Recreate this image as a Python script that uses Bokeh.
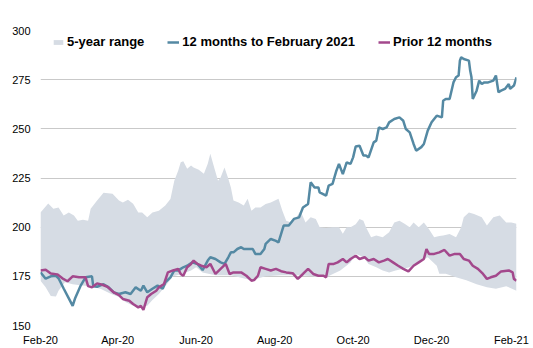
import pandas as pd
from bokeh.plotting import figure
from bokeh.models import Legend, LegendItem, Label, FixedTicker
from bokeh.embed import file_html
from bokeh.resources import INLINE

# ---------------- data ----------------
START = "2020-02-01"          # day 0 of the x axis
title_text = "Jan 2000 = 100"
series_names = ["5-year range", "12 months to February 2021", "Prior 12 months"]

tick_dates = ["2020-02-01", "2020-04-01", "2020-06-01", "2020-08-01",
              "2020-10-01", "2020-12-01", "2021-02-01"]
tick_labels = ["Feb-20", "Apr-20", "Jun-20", "Aug-20", "Oct-20", "Dec-20", "Feb-21"]
y_ticks = [150, 175, 200, 225, 250, 275, 300]

# 12 months to February 2021 (days since 1 Feb 2020, index value)
current_day = [0, 4, 8, 12, 14, 18, 22, 25, 27, 31, 35, 40, 41, 44, 49, 53, 57, 61, 66, 70,
               74, 78, 80, 83, 87, 91, 95, 97, 101, 104, 107, 109, 111, 114, 118, 122, 126, 130, 132, 136,
               140, 143, 146, 148, 150, 153, 156, 158, 162, 165, 167, 171, 174, 175, 179, 183, 185, 189, 193, 197,
               201, 204, 208, 210, 213, 216, 217, 222, 224, 227, 230, 232, 235, 238, 241, 243, 245, 248, 251, 253,
               255, 259, 261, 263, 266, 269, 271, 275, 279, 282, 284, 287, 290, 292, 296, 298, 301, 304, 308, 312,
               313, 315, 318, 321, 323, 325, 326, 327, 329, 333, 334, 335, 336, 339, 341, 343, 345, 348, 352, 354,
               356, 358, 361, 364, 365, 368, 370]
current_val = [177, 173.8, 175, 175.3, 174, 168.8, 163.8, 160, 164, 170, 174.5, 175, 170, 169.7, 171, 169.4, 166.8, 166, 166.9, 166,
               169.4, 167.7, 170.3, 166.9, 168.7, 170.3, 168.7, 171.9, 174.5, 178, 178, 178.8, 179.6, 180.4, 182.1, 181.3, 178.2, 183, 184.7, 183.8,
               182.1, 181.3, 184.7, 187.2, 187.2, 188.9, 189.8, 188.9, 188.9, 188.9, 186.4, 186.4, 188.9, 191.5, 194, 193, 192.3, 200.8, 200.8, 204.2,
               205, 210, 211.8, 222.8, 220.2, 220.2, 217.7, 216, 221.1, 222, 228.7, 232.2, 227, 232.9, 232.2, 235.5, 241, 241.4, 236.4, 236.4,
               235.5, 243.1, 244, 250.7, 249.9, 250.7, 253.3, 255, 255.8, 254.1, 249.9, 248.2, 242.3, 238.9, 240.7, 242.3, 249.1, 253.3, 256.7, 255.8,
               264.3, 265.2, 265.2, 273.6, 276.2, 277.1, 284.7, 286.4, 285.5, 284.7, 279.6, 276.2, 265.2, 269.4, 274.5, 272.8, 273.6, 273.6, 274.5, 277.1,
               268.6, 269.4, 270.3, 272.8, 270.3, 272, 276.2]

# Prior 12 months
prior_day = [0, 4, 8, 13, 17, 21, 25, 30, 35, 37, 40, 44, 48, 52, 57, 61, 64, 69, 72, 76,
             78, 80, 83, 86, 90, 92, 96, 99, 103, 107, 109, 111, 114, 117, 119, 122, 125, 129, 132, 136,
             140, 144, 147, 150, 156, 160, 164, 166, 169, 171, 175, 179, 183, 187, 191, 196, 200, 204, 208, 212,
             216, 220, 222, 224, 228, 231, 235, 238, 241, 245, 248, 252, 255, 259, 263, 267, 270, 274, 278, 282,
             286, 290, 294, 298, 300, 302, 306, 310, 314, 318, 322, 326, 329, 333, 336, 340, 344, 347, 350, 354,
             358, 364, 367, 368, 370]
prior_val = [178, 178.4, 176.4, 176, 174, 172.5, 175, 174.5, 174.5, 170, 169.4, 171.4, 170.7, 169.7, 166.8, 165.4, 163.5, 162.6, 160.9, 159.2,
             160, 157.9, 164.4, 166, 167.7, 169.4, 171.1, 177, 178, 178.8, 176.2, 175.3, 179.6, 181.3, 183, 181.3, 180.4, 179.6, 181.3, 176.2,
             178.8, 181.3, 176.2, 177, 177, 175.3, 172.8, 173.1, 175.3, 179.6, 178.8, 178, 178.8, 177.6, 177, 176.6, 173.7, 176.2, 178.8, 176.2,
             175.3, 175.3, 174.5, 181.3, 181.3, 182.1, 183.8, 182.1, 183.8, 185.5, 183.8, 184.7, 183, 183.8, 182.1, 183, 183.8, 182.1, 180.4, 178.8,
             177.5, 180.4, 182.1, 183.8, 188.9, 186.4, 186.4, 187.2, 188.4, 185.5, 186.4, 186.4, 183.8, 183, 180.4, 178.8, 176.2, 173.7, 174.5, 175.3,
             177.5, 178, 177, 173.7, 172.8]

# 5-year range: upper edge
range_hi_day = [0, 6, 10, 14, 18, 22, 26, 29, 33, 37, 39, 44, 49, 56, 61, 64, 68, 72, 76, 79,
                83, 87, 92, 97, 101, 104, 107, 109, 111, 114, 117, 119, 123, 127, 130, 132, 135, 138, 140, 143,
                146, 148, 150, 154, 158, 161, 164, 167, 171, 175, 179, 185, 188, 191, 195, 199, 202, 206, 210, 214,
                217, 222, 227, 232, 235, 238, 241, 245, 248, 251, 253, 257, 261, 266, 271, 275, 279, 283, 287, 290,
                294, 298, 302, 306, 310, 313, 318, 323, 327, 329, 333, 337, 343, 347, 352, 357, 362, 366, 370]
range_hi = [207.5, 212, 209.4, 210, 205.9, 207.5, 205.9, 203.3, 203.8, 203.3, 209.4, 213.5, 217.5, 217, 213.5, 212.6, 214, 211.9, 207.5, 207.5,
            205, 207.5, 208.4, 211, 214.3, 223.6, 228.7, 233, 233.5, 229.7, 231.3, 230.4, 229.2, 227.2, 232.3, 237.3, 230.4, 223.6, 225.3, 230.4,
            224.6, 220.2, 213.5, 212.6, 211, 214.5, 208.4, 210, 210, 211.8, 212.6, 214.4, 208.4, 203.3, 202.4, 205, 208.4, 202.4, 205, 204.2,
            200, 199.6, 200, 200, 196.7, 200, 200, 201.5, 204.2, 203.3, 200, 194.9, 195.7, 194.9, 197.4, 202.4, 203.3, 201.7, 200, 202.4,
            200, 202.4, 199, 194.9, 195.5, 195.7, 196.5, 194.9, 200, 205, 207.5, 206.7, 205, 200.8, 205, 205.9, 202.4, 202.4, 201.7]

# 5-year range: lower edge
range_lo_day = [0, 4, 8, 12, 14, 19, 25, 31, 39, 47, 55, 61, 66, 72, 78, 83, 87, 92, 97, 103,
                109, 117, 121, 126, 136, 148, 164, 175, 187, 202, 222, 233, 241, 245, 251, 255, 261, 266, 271, 276,
                282, 287, 294, 301, 308, 310, 315, 323, 331, 339, 347, 354, 362, 370]
range_lo = [172.7, 169.4, 165, 164.7, 167.7, 172, 171, 170.5, 170, 168.5, 166, 164.5, 162, 160, 159.5, 160, 163, 166, 170, 175,
            176, 178, 179.6, 177, 175.5, 175.5, 173, 175, 175.5, 175.5, 174.5, 178, 182, 186.5, 184.7, 181.3, 179.6, 178, 177, 178,
            178.9, 179.6, 182.2, 184.7, 180.4, 176.3, 176.3, 174.5, 173, 171, 169.4, 168.7, 170, 167.7]

# ---------------- styles ----------------
RANGE_COLOR = "#D6DCE4"
CURRENT_COLOR = "#5489A3"
PRIOR_COLOR = "#A3488C"
GRID_COLOR = "#C9C9C9"
FONT = "Liberation Sans"

start = pd.Timestamp(START)
tick_pos = [int((pd.Timestamp(d) - start).days) for d in tick_dates]

p = figure(width=533, height=348, x_range=(0, 370), y_range=(150, 300),
           output_backend="svg", toolbar_location=None,
           min_border_left=40, min_border_right=17, min_border_top=30, min_border_bottom=23)
p.outline_line_color = None
p.background_fill_color = "white"
p.border_fill_color = "white"

band_x = list(range_hi_day) + list(reversed(range_lo_day))
band_y = list(range_hi) + list(reversed(range_lo))
r_band = p.patch(band_x, band_y, fill_color=RANGE_COLOR, line_color=None)
r_cur = p.line(current_day, current_val, line_color=CURRENT_COLOR, line_width=2.5)
r_prior = p.line(prior_day, prior_val, line_color=PRIOR_COLOR, line_width=2.5)

# axes
p.xaxis.ticker = FixedTicker(ticks=tick_pos)
p.xaxis.major_label_overrides = {tp: lab for tp, lab in zip(tick_pos, tick_labels)}
p.yaxis.ticker = FixedTicker(ticks=y_ticks)
for ax in (p.xaxis[0], p.yaxis[0]):
    ax.axis_line_color = None
    ax.major_tick_line_color = None
    ax.minor_tick_line_color = None
    ax.major_tick_out = 0
    ax.major_tick_in = 0
    ax.minor_tick_out = 0
    ax.major_label_text_font = FONT
    ax.major_label_text_font_size = "11px"
    ax.major_label_text_color = "#000000"
p.xaxis.major_label_standoff = 8
p.yaxis.major_label_standoff = 10

p.xgrid.grid_line_color = None
p.ygrid.ticker = FixedTicker(ticks=y_ticks)
p.ygrid.grid_line_color = GRID_COLOR
p.ygrid.grid_line_width = 1

# legend
legend = Legend(items=[LegendItem(label=series_names[0], renderers=[r_band]),
                       LegendItem(label=series_names[1], renderers=[r_cur]),
                       LegendItem(label=series_names[2], renderers=[r_prior])],
                orientation="horizontal", location=(12, 276),
                glyph_width=12, glyph_height=6, label_standoff=3, spacing=23,
                padding=0, margin=0, border_line_color=None, background_fill_alpha=0,
                label_text_font=FONT, label_text_font_style="bold",
                label_text_font_size="13px", label_height=13, label_text_color="#000000")
p.add_layout(legend)

p.add_layout(Label(x=0, y=310, x_units="screen", y_units="screen", text=title_text,
                   text_font=FONT, text_font_size="8px", text_baseline="middle",
                   text_color="#000000"))

open("out.html", "w").write(file_html(p, INLINE))
